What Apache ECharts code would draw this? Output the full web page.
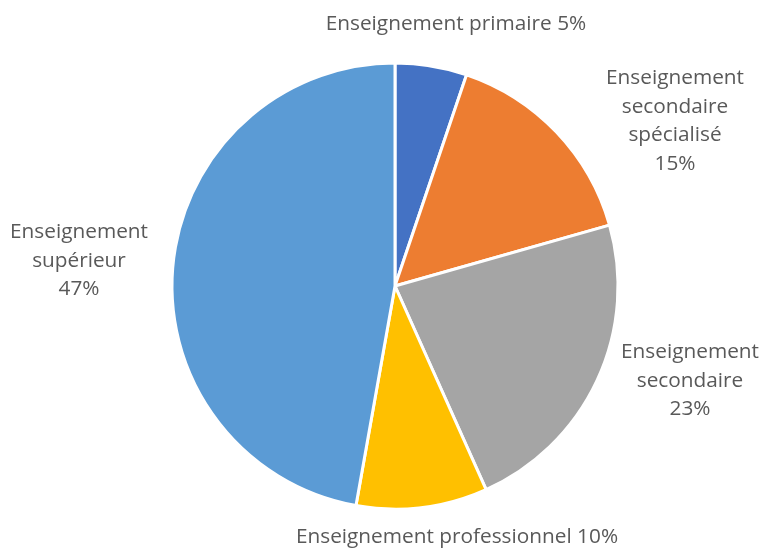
<!DOCTYPE html>
<html>
<head>
<meta charset="utf-8">
<script src="https://cdn.jsdelivr.net/npm/echarts@6/dist/echarts.min.js"></script>
<style>html,body{margin:0;padding:0;background:#fff;}#main{width:763px;height:549px;}</style>
</head>
<body>
<div id="main"></div>
<script>
const categories = ['Enseignement primaire', 'Enseignement secondaire spécialisé', 'Enseignement secondaire', 'Enseignement professionnel', 'Enseignement supérieur'];
const labelNames = ['Enseignement primaire', 'Enseignement\nsecondaire\nspécialisé', 'Enseignement\nsecondaire', 'Enseignement professionnel', 'Enseignement\nsupérieur'];
const labelSeparators = [' ', '\n', '\n', ' ', '\n'];
const values = [5.2, 15.4, 22.7, 9.5, 47.2];
const colors = ['#4472C4', '#ED7D31', '#A5A5A5', '#FFC000', '#5B9BD5'];

// layout (style): pie centre and label anchor offsets relative to it
const pieCenter = [395, 286];
const labelOffsets = [[61, -262], [280, -165], [295, 95], [62, 251], [-316, -25]];

const chart = echarts.init(document.getElementById('main'), null, {renderer: 'canvas'});
chart.setOption({
  backgroundColor: '#fff',
  animation: false,
  series: [{
    type: 'pie',
    center: pieCenter,
    radius: 223,
    startAngle: 90,
    clockwise: true,
    avoidLabelOverlap: false,
    itemStyle: {borderColor: '#fff', borderWidth: 3},
    label: {
      show: true,
      position: 'outside',
      alignTo: 'none',
      formatter: p => labelNames[p.dataIndex] + labelSeparators[p.dataIndex] + Math.round(p.percent) + '%',
      color: '#595959',
      fontFamily: 'Open Sans',
      fontSize: 20.8,
      lineHeight: 28.5
    },
    labelLine: {show: false, length: 10, length2: 0},
    labelLayout: p => ({
      x: pieCenter[0] + labelOffsets[p.dataIndex][0],
      y: pieCenter[1] + labelOffsets[p.dataIndex][1],
      align: 'center',
      verticalAlign: 'middle',
      hideOverlap: false
    }),
    data: categories.map((c, i) => ({name: c, value: values[i], itemStyle: {color: colors[i]}}))
  }]
});
</script>
</body>
</html>
